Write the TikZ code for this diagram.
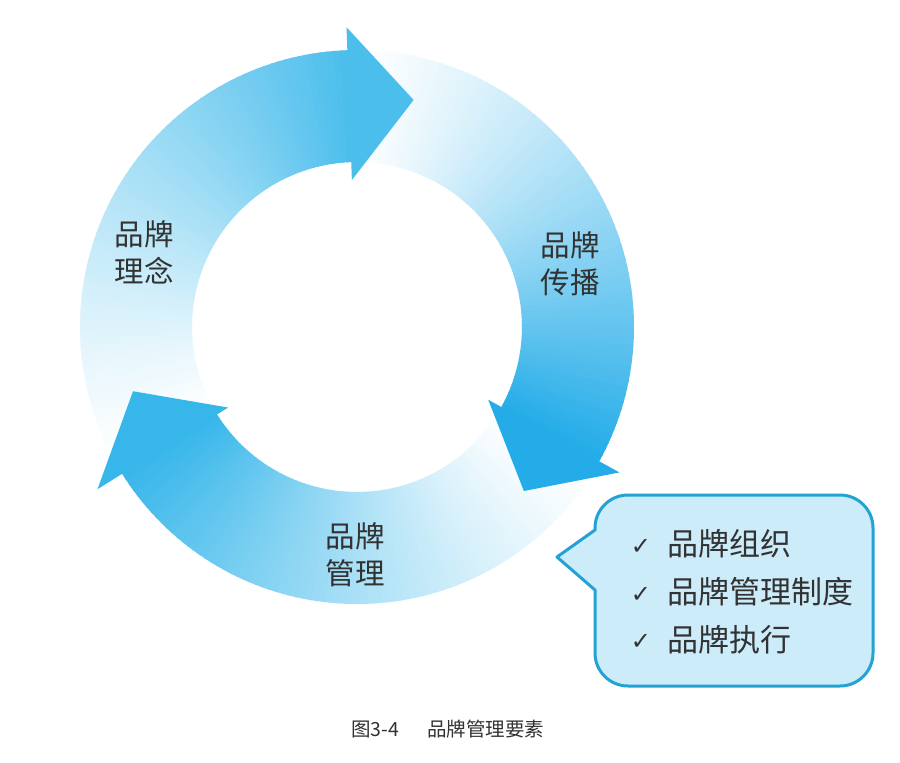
\documentclass[tikz,border=0pt]{standalone}
\usepackage{fontspec}
\newfontfamily\cjk{Noto Sans CJK SC}
\newfontfamily\djv{DejaVu Sans}
\definecolor{headT}{RGB}{75,190,236}
\definecolor{headR}{RGB}{35,172,232}
\definecolor{headL}{RGB}{55,182,234}
\definecolor{boxfill}{RGB}{205,236,250}
\definecolor{boxline}{RGB}{35,162,212}
\definecolor{txt}{RGB}{50,50,50}
\tikzset{
  ringlabel/.style={align=center, text=txt, font=\cjk\fontsize{29.5}{37}\selectfont, inner sep=0pt},
  itemtext/.style={anchor=west, text=txt, font=\cjk\fontsize{31}{34}\selectfont, inner sep=0pt},
  checkmk/.style={text=txt, font=\djv\fontsize{24}{26}\selectfont, inner sep=0pt},
  captext/.style={anchor=west, text=txt, font=\cjk\fontsize{19.5}{22}\selectfont, inner sep=0pt},
  callout/.style={fill=boxfill, draw=boxline, line width=3pt, line join=round}
}
\begin{document}
\begin{tikzpicture}[x=1pt,y=1pt]
\useasboundingbox (0,0) rectangle (900,-763);
\fill[white] (0,0) rectangle (900,-763);
\begin{scope}[shift={(357,-327)}]
  % bodies: tail angle, head-base angle, colour
  \foreach \T/\H/\c in {210.5/92/headT, 90.5/-29/headR, 329.5/212/headL}{
    \foreach \k in {0,...,79}{
      \pgfmathsetmacro\aa{\T-(\T-\H)*\k/80}
      \pgfmathsetmacro\ab{max(\T-(\T-\H)*(\k+1)/80-0.4,\H-2)}
      \pgfmathsetmacro\p{100*((\k+0.5)/80)^1.25}
      \fill[\c!\p!white] (\aa:165) -- (\aa:277) arc[start angle=\aa, end angle=\ab, radius=277]
        -- (\ab:165) arc[start angle=\ab, end angle=\aa, radius=165] -- cycle;
    }
  }
  % heads
  \coordinate (tA) at (92:147);  \coordinate (tB) at (92:300);  \coordinate (tC) at (76:234);
  \coordinate (rA) at (-29:150); \coordinate (rB) at (-29:300); \coordinate (rC) at (-44.5:234);
  \coordinate (lA) at (212:152); \coordinate (lB) at (212:306); \coordinate (lC) at (196:233);
  \fill[headT] (tA) -- (tB) -- (tC) -- cycle;
  \fill[headR] (rA) -- (rB) -- (rC) -- cycle;
  \fill[headL] (lA) -- (lB) -- (lC) -- cycle;
\end{scope}
% ring labels
\node[ringlabel] (lbT) at (144,-252) {品牌\\理念};
\node[ringlabel] (lbR) at (570,-264) {品牌\\传播};
\node[ringlabel] (lbL) at (355,-555) {品牌\\管理};
% callout
\path[callout] (557,-557) -- (595,-590) -- (595,-653) arc[start angle=180, end angle=270, radius=33]
  -- (840,-686) arc[start angle=270, end angle=360, radius=33]
  -- (873,-528) arc[start angle=0, end angle=90, radius=33]
  -- (628,-495) arc[start angle=90, end angle=180, radius=33]
  -- (595,-530) -- cycle;
\node[checkmk] (c1) at (641,-547) {✓};
\node[checkmk] (c2) at (641,-595) {✓};
\node[checkmk] (c3) at (641,-642) {✓};
\node[itemtext] (i1) at (667,-544) {品牌组织};
\node[itemtext] (i2) at (667,-592) {品牌管理制度};
\node[itemtext] (i3) at (667,-640) {品牌执行};
% caption
\node[captext] (cap) at (351,-729) {图3-4\hspace{28pt}品牌管理要素};
\end{tikzpicture}
\end{document}
